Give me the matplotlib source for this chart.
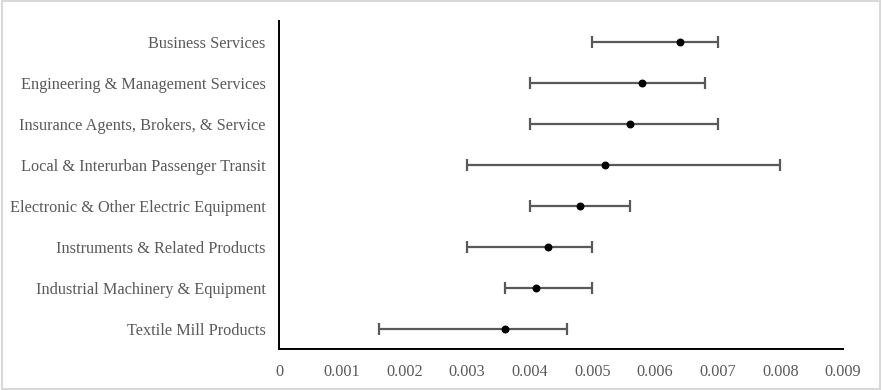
import matplotlib.pyplot as plt
from matplotlib.patches import Rectangle

categories = ['Business Services', 'Engineering & Management Services',
              'Insurance Agents, Brokers, & Service', 'Local & Interurban Passenger Transit',
              'Electronic & Other Electric Equipment', 'Instruments & Related Products',
              'Industrial Machinery & Equipment', 'Textile Mill Products']
estimate = [0.0064, 0.0058, 0.0056, 0.0052, 0.0048, 0.0043, 0.0041, 0.0036]
lower = [0.0050, 0.0040, 0.0040, 0.0030, 0.0040, 0.0030, 0.0036, 0.0016]
upper = [0.0070, 0.0068, 0.0070, 0.0080, 0.0056, 0.0050, 0.0050, 0.0046]
xticks = [0, 0.001, 0.002, 0.003, 0.004, 0.005, 0.006, 0.007, 0.008, 0.009]

plt.rcParams['font.family'] = ['Liberation Serif', 'DejaVu Serif']

fig = plt.figure(figsize=(8.82, 3.9), dpi=100)
ax = fig.add_axes([0.3163, 0.1051, 0.9558 - 0.3163, 0.946 - 0.1051])

y = list(range(len(categories)))
err_lo = [e - l for e, l in zip(estimate, lower)]
err_hi = [u - e for e, u in zip(estimate, upper)]
ax.errorbar(estimate, y, xerr=[err_lo, err_hi], fmt='none', ecolor='#595959',
            elinewidth=1.6, capsize=4, capthick=1.6, zorder=2)
ax.scatter(estimate, y, s=22, color='black', zorder=3)

ax.set_ylim(len(categories) - 0.5, -0.5)
ax.set_yticks(y)
ax.set_yticklabels(categories)
ax.set_xlim(0, 0.009)
ax.set_xticks(xticks)
ax.set_xticklabels(['0'] + [f'{t:.3f}' for t in xticks[1:]])

ax.tick_params(axis='y', length=0, pad=9.5, labelsize=11.7, labelcolor='#595959')
ax.tick_params(axis='x', length=0, pad=11, labelsize=11.7, labelcolor='#595959')
for s in ['top', 'right']:
    ax.spines[s].set_visible(False)
for s in ['left', 'bottom']:
    ax.spines[s].set_color('black')
    ax.spines[s].set_linewidth(1.4)

fig.patches.append(Rectangle((0.002, 0.003), 0.996, 0.994, transform=fig.transFigure,
                             fill=False, edgecolor='#d9d9d9', linewidth=1.5))

fig.savefig('out.png', dpi=100)
